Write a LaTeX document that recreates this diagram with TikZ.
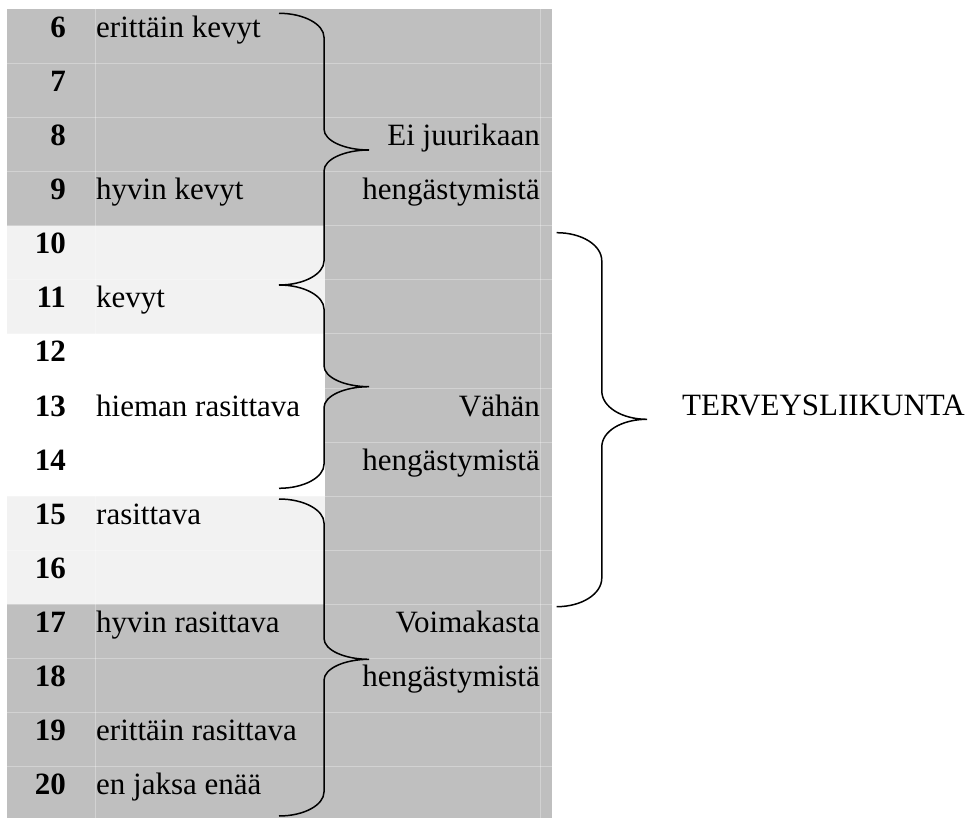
\documentclass[tikz,border=0pt]{standalone}
\usepackage{fontspec}
\setmainfont{Liberation Serif}
\usepackage{xcolor}
\usepackage{tikz}
\usetikzlibrary{positioning}
\definecolor{celldark}{HTML}{BFBFBF}
\definecolor{celllight}{HTML}{F2F2F2}
\tikzset{%
  cell dark/.style={fill=celldark},
  cell light/.style={fill=celllight},
  grid line/.style={
    draw=white,
    draw opacity=0.3,
    line width=0.8pt
  },
  row number/.style={
    anchor=base east,
    inner sep=0pt,
    font=\fontsize{31}{37}\selectfont\bfseries
  },
  row text/.style={
    inner sep=0pt
  },
  breath text/.style={
    anchor=base east,
    inner sep=0pt
  },
  brace line/.style={
    draw=black,
    line width=1.5pt
  },
}
\begin{document}
\begin{tikzpicture}[x=1pt, y=-1pt, font=\fontsize{31}{37}\selectfont]

    \clip (0,0) rectangle (975,818);

    % table background
    \fill [cell dark] (7.3,9.3) rectangle (325,225.7);
    \fill [cell light] (7.3,225.7) rectangle (325,333.9);
    \fill [cell light] (7.3,496.2) rectangle (325,604.4);
    \fill [cell dark] (7.3,604.4) rectangle (325,818);
    \fill [cell dark] (325,9.3) rectangle (552,818);

    \foreach \y in {1,...,14}
    \draw [grid line] (7.3,9.3+\y*54.1) -- (552,9.3+\y*54.1);

    \foreach \x in {95.7,540}
    \draw [grid line] (\x,9.3) -- (\x,818);

    % Borg scale
    \foreach \n [count=\i from 0] in {6,...,20}
    \node [row number] (num-\n) at (66,37.3+\i*54.1) {\n};

    \foreach \n/\l in {6/erittäin kevyt, 9/hyvin kevyt, 11/kevyt,
        13/hieman rasittava, 15/rasittava, 17/hyvin rasittava,
        19/erittäin rasittava, 20/en jaksa enää}
    \node [row text, base right=30pt of num-\n] (text-\n) {\l};

    \foreach \n/\l in {8/Ei juurikaan, 9/hengästymistä, 13/Vähän,
        14/hengästymistä, 17/Voimakasta, 18/hengästymistä}
    \node [breath text] (breath-\n) at (540,37.3+\n*54.1-6*54.1) {\l};

    % braces
    \foreach \yt/\yp/\yb in {13.3/150/285, 285/386.7/488.3, 499/659.3/816}
    \draw [brace line] (279,\yt) .. controls (304,\yt) and (324,\yt+11) .. (324,\yt+24)
        -- (324,\yp-21) .. controls (324,\yp-9) and (345,\yp) .. (369,\yp)
        .. controls (345,\yp) and (324,\yp+9) .. (324,\yp+21)
        -- (324,\yb-24) .. controls (324,\yb-11) and (304,\yb) .. (279,\yb);

    \coordinate (big-top) at (556.7,232.7);
    \coordinate (big-tip) at (647,419.3);
    \coordinate (big-bot) at (556.7,606.7);
    \draw [brace line] (big-top) .. controls (581.7,232.7) and (601.8,245) .. (601.8,261)
        -- (601.8,391) .. controls (601.8,407) and (622,419.3) .. (big-tip)
        .. controls (622,419.3) and (601.8,431) .. (601.8,447)
        -- (601.8,578) .. controls (601.8,594) and (581.7,606.7) .. (big-bot);

    \node [anchor=base west, inner sep=0pt] (health) at (682,415.5) {TERVEYSLIIKUNTA};

\end{tikzpicture}
\end{document}
